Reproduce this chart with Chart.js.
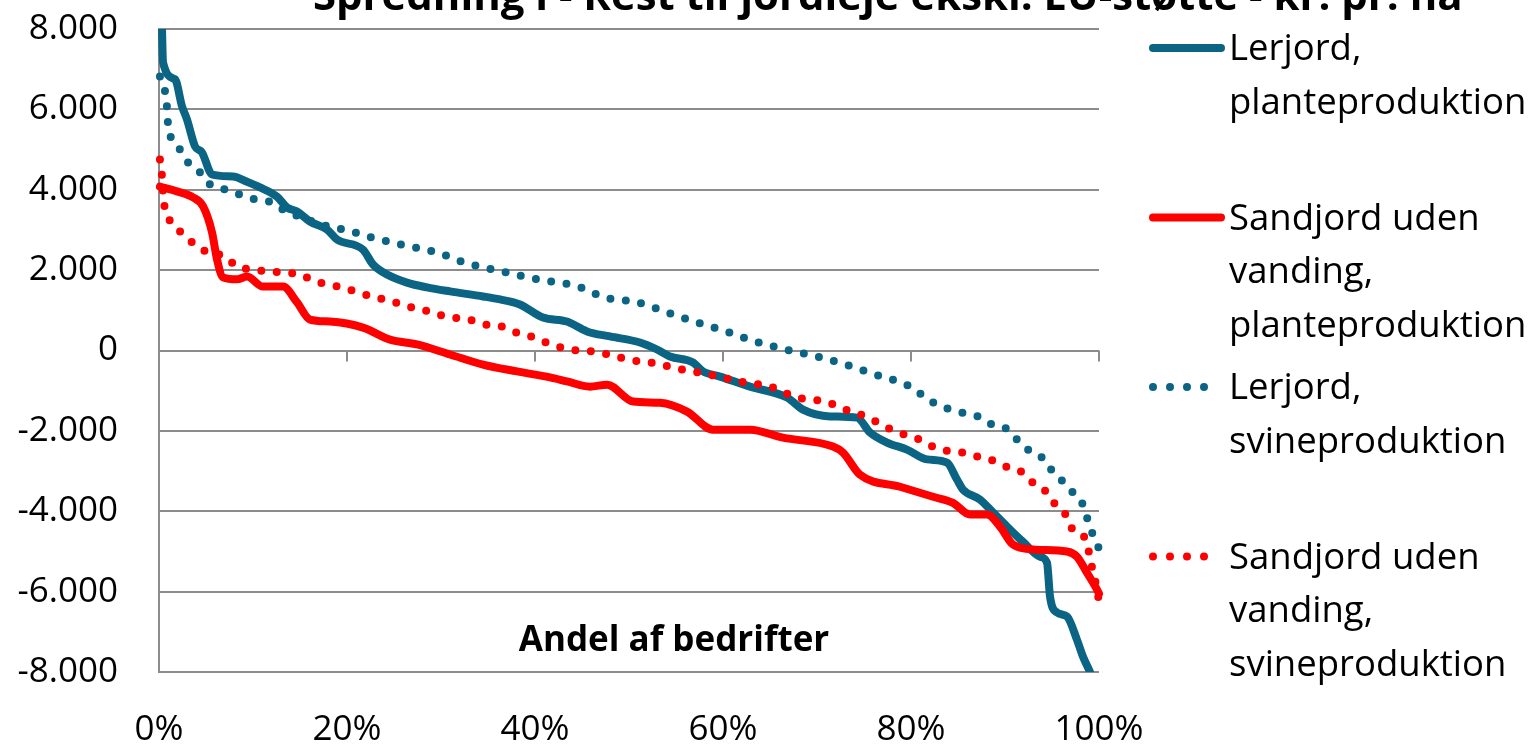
<!DOCTYPE html>
<html>
<head>
<meta charset="utf-8">
<script src="https://cdn.jsdelivr.net/npm/chart.js@4.4.1/dist/chart.umd.min.js"></script>
<style>
    html, body { margin: 0; padding: 0; background: #ffffff; }
    #wrap { position: relative; width: 1537px; height: 745px; }
</style>
</head>
<body>
<div id="wrap"><canvas id="spredningChart"></canvas></div>
<script>
const chartTitle = 'Spredning i - Rest til jordleje ekskl. EU-støtte - kr. pr. ha';
const xAxisTitle = 'Andel af bedrifter';

const seriesLabels = [
    ['Lerjord,', 'planteproduktion'],
    ['Sandjord uden', 'vanding,', 'planteproduktion'],
    ['Lerjord,', 'svineproduktion'],
    ['Sandjord uden', 'vanding,', 'svineproduktion'],
];

const yTickValues = [8000, 6000, 4000, 2000, 0, -2000, -4000, -6000, -8000];
const xTickValues = [0, 20, 40, 60, 80, 100];

// Lerjord, planteproduktion (x = % of farms, y = kr. pr. ha)
const lerPlanteX = [0.28, 0.43, 1.7, 2.45, 2.98, 3.83, 4.57, 5.64, 7.87, 9.36, 10.74, 12.55, 13.62, 14.68, 16.06,
    17.87, 18.94, 21.7, 22.77, 24.26, 26.38, 28.51, 30.96, 34.47, 36.28, 38.4, 40.85, 43.4, 45.53, 47.98,
    51.17, 52.98, 54.36, 56.81, 57.87, 59.68, 62.87, 66.81, 68.51, 71.38, 74.26, 75.64, 77.45, 79.57, 81.7,
    83.83, 84.89, 85.53, 87.34, 88.72, 90.21, 91.91, 93.72, 94.47, 94.79, 95.53, 96.6, 97.66, 98.3, 99.04, 100];
const lerPlanteY = [8400, 7170, 6750, 6075, 5750, 5080, 4930, 4380, 4330, 4200, 4060, 3830, 3560, 3460, 3210,
    3010, 2760, 2510, 2140, 1890, 1690, 1570, 1470, 1345, 1270, 1145, 820, 720, 475, 350,
    200, 25, -150, -300, -520, -650, -900, -1170, -1470, -1640, -1670, -2040, -2290, -2465, -2710,
    -2790, -3210, -3460, -3710, -4030, -4380, -4760, -5130, -5280, -6125, -6520, -6620, -7200, -7620, -8000, -8600];

// Sandjord uden vanding, planteproduktion
const sandPlanteX = [0.1, 1.91, 3.62, 4.68, 5.64, 6.17, 6.81, 8.3, 9.36, 11.06, 13.19, 14.68, 16.06, 18.19, 21.7,
    24.57, 27.45, 30.96, 34.47, 38.09, 41.6, 43.4, 45.85, 47.66, 50.43, 53.3, 56.17, 58.94, 62.87, 66.38,
    71.7, 72.77, 74.57, 78.83, 82.34, 84.47, 86.28, 88.09, 89.47, 90.85, 92.98, 96.6, 97.66, 98.72, 99.79, 100];
const sandPlanteY = [4080, 3960, 3810, 3590, 2940, 2270, 1820, 1770, 1840, 1590, 1590, 1200, 770, 720, 570,
    270, 150, -100, -350, -520, -670, -770, -900, -850, -1270, -1300, -1520, -1970, -1970, -2170,
    -2390, -2540, -3090, -3390, -3640, -3790, -4080, -4080, -4380, -4830, -4950, -5000, -5130, -5530, -5950, -6050];

// Lerjord, svineproduktion
const lerSvineX = [0.1, 0.64, 0.85, 0.96, 1.38, 2.23, 3.09, 4.36, 5.43, 7.02, 8.62, 10.21, 12.02, 13.19, 17.98,
    19.68, 22.98, 26.28, 29.57, 32.77, 36.06, 39.26, 41.06, 44.47, 47.45, 50.85, 54.04, 57.23, 60.43, 63.4,
    66.7, 70, 73.3, 76.49, 79.68, 80.96, 82.34, 83.83, 85.43, 87.13, 88.62, 90.11, 91.28, 92.45, 93.94,
    95, 96.06, 97.13, 98.19, 98.72, 99.26, 99.89, 100];
const lerSvineY = [6820, 6450, 6050, 5630, 5250, 5000, 4680, 4430, 4130, 4010, 3880, 3760, 3685, 3510, 3090,
    3010, 2790, 2610, 2440, 2170, 1990, 1820, 1740, 1600, 1320, 1200, 950, 700, 470, 225,
    25, -150, -370, -620, -870, -1070, -1290, -1440, -1545, -1640, -1840, -1940, -2215, -2465, -2665,
    -2990, -3240, -3510, -3790, -4160, -4530, -4880, -4920];

// Sandjord uden vanding, svineproduktion
const sandSvineX = [0.1, 0.32, 0.43, 0.64, 1.38, 2.55, 3.83, 5.21, 7.02, 8.3, 9.89, 11.49, 13.19, 15, 16.6,
    18.19, 19.89, 21.49, 23.09, 24.79, 26.38, 27.98, 29.57, 31.28, 32.98, 34.68, 36.38, 37.98, 39.57, 41.17,
    42.77, 44.47, 46.17, 47.77, 49.47, 51.17, 52.87, 54.57, 56.28, 57.87, 59.57, 61.28, 62.98, 64.68, 66.28,
    67.77, 69.47, 71.17, 72.66, 74.36, 75.85, 77.45, 79.04, 80.64, 82.13, 83.72, 85.43, 87.13, 88.72, 90.32,
    91.91, 92.98, 94.36, 95.21, 96.38, 97.13, 98.4, 98.94, 99.26, 99.79, 100];
const sandSvineY = [4750, 4330, 3930, 3510, 3190, 2890, 2640, 2440, 2340, 2090, 2020, 1970, 1940, 1890, 1720,
    1640, 1540, 1420, 1320, 1220, 1100, 1020, 900, 820, 770, 650, 600, 450, 350, 200,
    75, 0, -25, -100, -200, -275, -320, -420, -500, -570, -650, -750, -820, -870, -1020,
    -1170, -1220, -1290, -1440, -1570, -1720, -1920, -2070, -2190, -2370, -2490, -2540, -2640, -2740, -2910,
    -3040, -3290, -3510, -3790, -4060, -4430, -4630, -5030, -5400, -5950, -6250];

const teal = '#0b6483';
const red = '#ff0000';
const gridColor = '#8c8c8c';
const fontFamily = '"Open Sans", "Noto Sans", sans-serif';

const toPoints = (xs, ys) => xs.map((x, i) => ({ x, y: ys[i] }));

const formatThousands = (value) => {
    const digits = String(Math.abs(value)).replace(/\B(?=(\d{3})+(?!\d))/g, '.');
    return (value < 0 ? '-' : '') + digits;
};

const solid = (color) => ({
    borderColor: color,
    backgroundColor: color,
    borderWidth: 8,
    borderCapStyle: 'round',
    borderJoinStyle: 'round',
});

const dotted = (color) => ({
    borderColor: color,
    backgroundColor: color,
    borderWidth: 8,
    borderDash: [0, 15.5],
    borderCapStyle: 'round',
    borderJoinStyle: 'round',
});

const extrasPlugin = {
    id: 'extras',
    beforeDatasetsDraw(chart) {
        const { ctx } = chart;
        const xScale = chart.scales.x;
        const y0 = chart.scales.y.getPixelForValue(0);
        ctx.save();
        ctx.strokeStyle = gridColor;
        ctx.lineWidth = 2;
        xTickValues.slice(1).forEach((v) => {
            const px = xScale.getPixelForValue(v);
            ctx.beginPath();
            ctx.moveTo(px, y0);
            ctx.lineTo(px, y0 + 11);
            ctx.stroke();
        });
        ctx.restore();
    },
    afterDraw(chart) {
        const { ctx } = chart;
        ctx.save();
        ctx.fillStyle = '#000000';

        // title, cut off at the top edge as in the source picture
        ctx.font = `bold 36px ${fontFamily}`;
        const w = ctx.measureText(chartTitle).width;
        const size = 36 * 1151 / w;
        ctx.font = `bold ${size.toFixed(1)}px ${fontFamily}`;
        ctx.textAlign = 'left';
        ctx.textBaseline = 'alphabetic';
        ctx.fillText(chartTitle, 313, 10);

        // axis title inside the plot
        ctx.font = `bold 35px ${fontFamily}`;
        ctx.textAlign = 'center';
        ctx.fillText(xAxisTitle, 674, 651);

        // legend
        ctx.font = `36.5px ${fontFamily}`;
        ctx.textAlign = 'left';
        ctx.textBaseline = 'middle';
        chart.data.datasets.forEach((ds, i) => {
            const ly = 48 + i * 169.5;
            ctx.beginPath();
            ctx.strokeStyle = ds.borderColor;
            ctx.lineWidth = ds.borderWidth;
            ctx.lineCap = 'round';
            ctx.setLineDash(ds.borderDash ? [0, 17] : []);
            ctx.moveTo(1153, ly);
            ctx.lineTo(1221, ly);
            ctx.stroke();
            ctx.setLineDash([]);
            seriesLabels[i].forEach((line, k) => {
                ctx.fillText(line, 1229, ly + 2 + k * 53.5);
            });
        });
        ctx.restore();
    },
};

new Chart(document.getElementById('spredningChart'), {
    type: 'line',
    data: {
        datasets: [
            { label: seriesLabels[0].join(' '), data: toPoints(lerPlanteX, lerPlanteY), order: 4, ...solid(teal) },
            { label: seriesLabels[1].join(' '), data: toPoints(sandPlanteX, sandPlanteY), order: 3, ...solid(red) },
            { label: seriesLabels[2].join(' '), data: toPoints(lerSvineX, lerSvineY), order: 2, ...dotted(teal) },
            { label: seriesLabels[3].join(' '), data: toPoints(sandSvineX, sandSvineY), order: 1, ...dotted(red) },
        ],
    },
    options: {
        responsive: true,
        maintainAspectRatio: false,
        animation: false,
        events: [],
        layout: {
            padding: { top: 29, right: 438, left: 0, bottom: 0 },
        },
        elements: {
            point: { radius: 0 },
            line: { cubicInterpolationMode: 'monotone', fill: false },
        },
        datasets: {
            line: { clip: { left: 6, right: 6, top: 0, bottom: 0 } },
        },
        plugins: {
            legend: { display: false },
            title: { display: false },
            tooltip: { enabled: false },
        },
        scales: {
            x: {
                type: 'linear',
                position: 'bottom',
                min: 0,
                max: 100,
                afterFit: (scale) => {
                    scale.height = 73;
                    scale.paddingLeft = 0;
                    scale.paddingRight = 0;
                },
                afterBuildTicks: (scale) => { scale.ticks = xTickValues.map((value) => ({ value })); },
                grid: { display: false },
                border: { display: false },
                ticks: {
                    color: '#000000',
                    padding: 29,
                    maxRotation: 0,
                    font: { family: fontFamily, size: 35 },
                    callback: (value) => value + '%',
                },
            },
            y: {
                min: -8000,
                max: 8000,
                afterFit: (scale) => {
                    scale.width = 159;
                    scale.paddingTop = 0;
                    scale.paddingBottom = 0;
                },
                afterBuildTicks: (scale) => { scale.ticks = yTickValues.map((value) => ({ value })); },
                grid: { color: gridColor, lineWidth: 2, drawTicks: false },
                border: { display: true, color: gridColor, width: 2 },
                ticks: {
                    color: '#000000',
                    padding: 41,
                    font: { family: fontFamily, size: 35 },
                    callback: (value) => formatThousands(value),
                },
            },
        },
    },
    plugins: [extrasPlugin],
});
</script>
</body>
</html>
